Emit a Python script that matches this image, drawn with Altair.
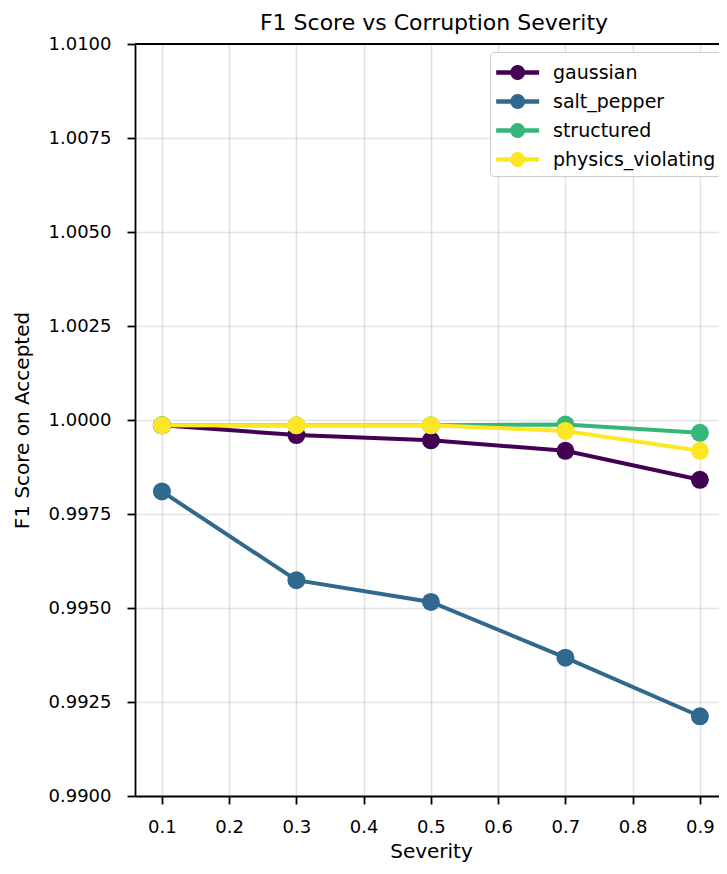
import math
import altair as alt
import pandas as pd

severity = [0.1, 0.3, 0.5, 0.7, 0.9]
series_names = ["gaussian", "salt_pepper", "structured", "physics_violating"]
gaussian = [0.99986, 0.99960, 0.99946, 0.99918, 0.99841]
salt_pepper = [0.99810, 0.99574, 0.99516, 0.99368, 0.99212]
structured = [0.99986, 0.99986, 0.99986, 0.99988, 0.99966]
physics_violating = [0.99986, 0.99986, 0.99986, 0.99971, 0.99918]
colors = ["#440154", "#31688e", "#35b779", "#fde725"]
x_ticks = [0.1, 0.2, 0.3, 0.4, 0.5, 0.6, 0.7, 0.8, 0.9]
y_ticks = [0.99, 0.9925, 0.995, 0.9975, 1.0, 1.0025, 1.005, 1.0075, 1.01]

values = {"gaussian": gaussian, "salt_pepper": salt_pepper,
          "structured": structured, "physics_violating": physics_violating}
rows = []
for name in series_names:
    for s, v in zip(severity, values[name]):
        rows.append({"Severity": s, "F1": v, "Corruption": name})
df = pd.DataFrame(rows)

FONT = "DejaVu Sans"

x_enc = alt.X("Severity:Q",
              scale=alt.Scale(domain=[0.06, 0.9284], nice=False, zero=False),
              axis=alt.Axis(values=x_ticks, format=".1f", title="Severity",
                            titleX=296, titleY=61, titleBaseline="alphabetic",
                            labelBaseline="alphabetic", labelPadding=28))
y_enc = alt.Y("F1:Q",
              scale=alt.Scale(domain=[0.99, 1.01], nice=False, zero=False),
              axis=alt.Axis(values=y_ticks, format=".4f", title="F1 Score on Accepted",
                            titleX=-107, titleBaseline="alphabetic", labelPadding=16))
color_scale = alt.Scale(domain=series_names, range=colors)

# legend glyph: a short line with a dot on it (polygon path, unit coordinates)
circle_pts = []
for k in range(24):
    t = 2 * math.pi * k / 24
    circle_pts.append(f"{0.5 + 0.52 * math.cos(t):.3f} {0.52 * math.sin(t):.3f}")
legend_path = ("M -1 -0.16 L 2 -0.16 L 2 0.16 L -1 0.16 Z M "
               + " L ".join(circle_pts) + " Z")

legend = alt.Legend(title=None, orient="none", legendX=355, legendY=8,
                    symbolType=legend_path, symbolSize=820, symbolStrokeWidth=0,
                    labelOffset=28, labelFontSize=19, labelFont=FONT,
                    labelColor="black", labelLimit=400, padding=6, rowPadding=4,
                    strokeColor="#cccccc", fillColor="#ffffff", cornerRadius=4)

base = alt.Chart(df)
layers = []
for name in series_names:
    sub = base.transform_filter(alt.datum.Corruption == name)
    layers.append(sub.mark_line(strokeWidth=4).encode(
        x=x_enc, y=y_enc,
        stroke=alt.Stroke("Corruption:N", scale=color_scale, legend=legend)))
    layers.append(sub.mark_point(filled=True, size=324, opacity=1, shape="circle").encode(
        x=x_enc, y=y_enc,
        color=alt.Color("Corruption:N", scale=color_scale, legend=legend)))

top_spine = alt.Chart(pd.DataFrame({"top": [1.01]})).mark_rule(
    color="black", strokeWidth=1.8).encode(y=alt.Y("top:Q"))

chart = alt.layer(*layers, top_spine).properties(
    width=584, height=752,
    autosize=alt.AutoSizeParams(type="none"),
    padding={"left": 127, "top": 36, "right": 0, "bottom": 66},
    title=alt.TitleParams("F1 Score vs Corruption Severity", fontSize=22,
                          fontWeight="normal", anchor="middle", frame="group",
                          offset=0, dx=7, font=FONT, color="black"),
).configure_view(stroke=None).configure_axis(
    labelFont=FONT, titleFont=FONT, labelFontSize=18, titleFontSize=20,
    titleFontWeight="normal", labelColor="black", titleColor="black",
    domainColor="black", domainWidth=1.8, tickColor="black", tickWidth=1.8,
    tickSize=8, gridColor="#b0b0b0", gridOpacity=0.35, gridWidth=1.6,
)

chart.save("out.html", embed_options={"renderer": "svg", "actions": False})
